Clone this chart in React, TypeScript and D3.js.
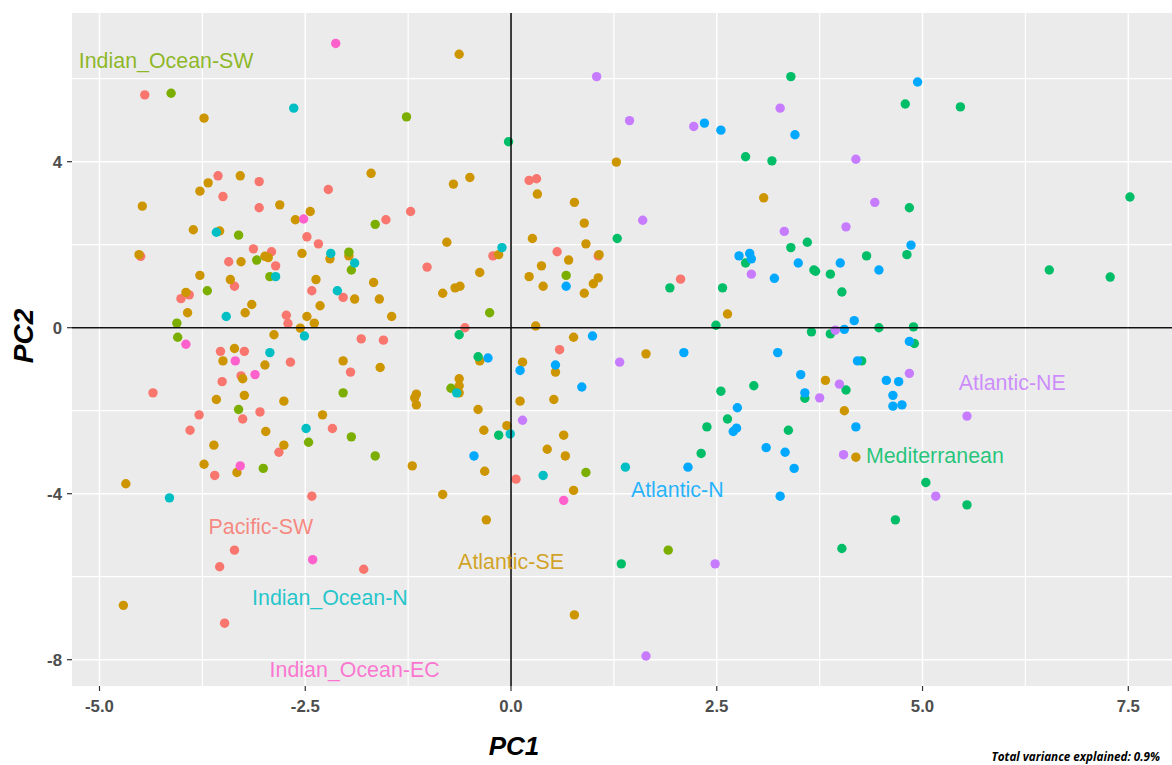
import React from "react";
import * as d3 from "d3";

type P = [number, number];

const pacificSW: P[] = [[-4.45,5.61],[-3.56,3.66],[-3.06,3.52],[-3.5,3.16],[-2.22,3.33],[-3.06,2.89],[-2.48,2.19],[-2.34,2.02],[-3.13,1.9],[-2.91,1.83],[-3.43,1.59],[-4.5,1.72],[-2.86,1.49],[-3.36,1],[-2.42,0.89],[-2.04,0.73],[-3.91,0.79],[-4.01,0.7],[-2.73,0.3],[-2.71,0.1],[-1.82,-0.27],[-3.53,-0.57],[-3.24,-0.57],[-2.68,-0.83],[-1.95,-1.07],[-3.28,-1.16],[-3.51,-1.3],[-4.35,-1.57],[-3.05,-2.03],[-3.79,-2.1],[-3.26,-2.2],[-3.9,-2.47],[-2.17,-2.43],[-2.82,-3],[-3.6,-3.56],[-2.42,-4.06],[-3.36,-5.36],[-3.54,-5.76],[-1.79,-5.82],[-3.48,-7.12],[0.22,3.55],[0.31,3.59],[-1.22,2.8],[-1.52,2.6],[-0.22,1.73],[0.56,1.83],[1.06,1.73],[-1.02,1.46],[-0.56,0],[-1.55,-0.3],[0.59,-0.53],[0.06,-3.65],[2.06,1.17]];

const atlanticSE: P[] = [[-3.73,5.05],[-3.29,3.66],[-3.68,3.49],[-3.78,3.29],[-4.48,2.93],[-2.81,2.96],[-2.44,2.8],[-2.62,2.6],[-3.86,2.36],[-3.54,2.33],[-2.99,1.72],[-2.95,1.69],[-3.28,1.59],[-2.54,1.79],[-2.2,1.66],[-1.97,1.73],[-4.52,1.76],[-3.78,1.26],[-3.41,1.16],[-2.37,1.16],[-1.9,0.69],[-3.95,0.85],[-3.15,0.56],[-2.32,0.53],[-3.93,0.36],[-3.23,0.36],[-2.48,0.27],[-2.39,0.11],[-2.56,-0.01],[-2.88,-0.17],[-3.36,-0.5],[-3.5,-0.8],[-2.99,-0.9],[-2.04,-0.8],[-3.26,-1.23],[-3.24,-1.63],[-3.58,-1.73],[-2.76,-1.77],[-2.29,-2.1],[-2.98,-2.5],[-3.61,-2.83],[-2.76,-2.83],[-3.73,-3.29],[-3.33,-3.49],[-4.68,-3.76],[-4.71,-6.69],[-0.63,6.59],[1.28,3.99],[-1.7,3.72],[-0.7,3.46],[-0.5,3.62],[0.32,3.22],[0.77,3.02],[0.89,2.52],[-0.78,2.06],[0.26,2.15],[0.91,2.02],[-0.15,1.76],[0.7,1.63],[1.07,1.76],[0.37,1.49],[-0.38,1.33],[0.22,1.23],[1.06,1.2],[1,1.06],[-1.67,1.09],[-1.6,0.69],[-0.83,0.83],[-0.68,0.96],[-0.62,1],[0.39,1],[0.89,0.83],[-1.45,0.27],[0.3,0.04],[0.76,-0.23],[-0.38,-0.8],[0.14,-0.83],[0.54,-1.07],[1.64,-0.63],[-1.59,-0.96],[-0.63,-1.23],[-0.63,-1.4],[-0.63,-1.57],[-1.15,-1.6],[-1.17,-1.69],[-1.15,-1.86],[0.11,-1.77],[0.52,-1.73],[-0.4,-1.97],[-0.05,-2.36],[-0.33,-2.47],[0.64,-2.59],[0.44,-2.93],[0.66,-3.09],[-1.2,-3.33],[-0.32,-3.46],[0.76,-3.92],[-0.83,-4.02],[-0.3,-4.63],[0.77,-6.92],[3.07,3.13],[2.63,0.33],[3.82,-1.27],[4.05,-2],[4.19,-3.12]];

const indianOceanSW: P[] = [[-4.13,5.65],[-3.31,2.23],[-3.09,1.63],[-1.97,1.82],[-1.94,1.39],[-2.93,1.23],[-3.69,0.89],[-4.06,0.11],[-4.05,-0.23],[-2.04,-1.57],[-3.31,-1.97],[-1.94,-2.63],[-2.46,-2.76],[-3.01,-3.39],[-1.27,5.08],[-1.65,2.49],[-0.26,0.36],[0.67,1.26],[-0.73,-1.46],[-1.65,-3.09],[0.91,-3.49],[1.91,-5.36]];

const mediterranean: P[] = [[-0.03,4.48],[1.29,2.15],[-0.63,-0.17],[-0.4,-0.7],[-0.15,-2.59],[1.34,-5.69],[3.4,6.05],[4.79,5.39],[5.46,5.32],[2.85,4.12],[3.17,4.02],[4.84,2.89],[3.6,2.06],[3.4,1.93],[2.85,1.56],[4.32,1.73],[4.81,1.76],[3.68,1.39],[3.7,1.36],[3.88,1.29],[1.93,0.96],[2.57,0.96],[4.02,0.86],[2.49,0.06],[3.65,-0.1],[3.88,-0.15],[4.47,0],[4.89,0.02],[4.9,-0.38],[4.26,-0.8],[2.95,-1.4],[4.07,-1.5],[2.55,-1.53],[3.57,-1.7],[2.63,-2.2],[2.38,-2.39],[3.37,-2.47],[2.31,-3.03],[5.04,-3.73],[5.54,-4.27],[4.67,-4.63],[4.02,-5.32],[7.52,3.15],[6.54,1.39],[7.28,1.22]];

const indianOceanN: P[] = [[-2.64,5.29],[-3.58,2.3],[-2.19,1.79],[-1.9,1.56],[-2.86,1.23],[-2.11,0.89],[-3.46,0.27],[-2.51,-0.2],[-2.93,-0.6],[-2.49,-2.43],[-4.15,-4.1],[-0.11,1.93],[-0.66,-1.57],[-0.01,-2.56],[0.39,-3.56],[1.39,-3.36]];

const atlanticN: P[] = [[0.67,1],[-0.28,-0.73],[0.11,-1.03],[0.54,-0.9],[0.99,-0.2],[0.86,-1.43],[-0.45,-3.09],[4.94,5.92],[2.35,4.93],[2.55,4.76],[3.45,4.65],[4.86,1.99],[2.77,1.73],[2.9,1.79],[2.92,1.66],[3.49,1.56],[4,1.56],[4.47,1.39],[3.2,1.19],[4.17,0.17],[4.05,-0.04],[4.84,-0.33],[2.1,-0.6],[3.24,-0.6],[4.21,-0.8],[3.52,-1.13],[4.56,-1.27],[4.71,-1.3],[3.57,-1.57],[4.64,-1.63],[4.75,-1.86],[4.64,-1.89],[2.75,-1.93],[2.74,-2.42],[2.7,-2.5],[4.19,-2.39],[3.1,-2.89],[3.33,-3],[2.15,-3.36],[3.44,-3.39],[3.27,-4.06]];

const atlanticNE: P[] = [[1.04,6.05],[1.44,4.99],[1.6,2.59],[1.32,-0.83],[0.14,-2.23],[1.64,-7.91],[3.27,5.29],[2.22,4.85],[4.19,4.06],[4.42,3.02],[4.07,2.43],[3.32,2.32],[2.92,1.29],[3.94,-0.06],[4.84,-1.1],[3.99,-1.36],[3.75,-1.69],[5.54,-2.13],[4.04,-3.06],[5.16,-4.06],[2.48,-5.69]];

const indianOceanEC: P[] = [[-2.13,6.85],[-2.52,2.62],[-3.95,-0.4],[-3.35,-0.8],[-3.11,-1.13],[-3.29,-3.33],[-2.41,-5.59],[0.64,-4.16]];

const seriesNames = ["Pacific-SW","Atlantic-SE","Indian_Ocean-SW","Mediterranean","Indian_Ocean-N","Atlantic-N","Atlantic-NE","Indian_Ocean-EC"];
const seriesValues = [pacificSW,atlanticSE,indianOceanSW,mediterranean,indianOceanN,atlanticN,atlanticNE,indianOceanEC];
const seriesColors = ["#F8766D","#CD9600","#7CAE00","#00BE67","#00BFC4","#00A9FF","#C77CFF","#FF61CC"];
const labelX = [-3.04,0,-4.19,5.15,-2.2,2.02,6.09,-1.9];
const labelY = [-4.78,-5.64,6.45,-3.07,-6.51,-3.91,-1.33,-8.24];

const xMajor = [-5,-2.5,0,2.5,5,7.5];
const xTickLabels = ["-5.0","-2.5","0.0","2.5","5.0","7.5"];
const xMinor = [-3.75,-1.25,1.25,3.75,6.25];
const yMajor = [-8,-4,0,4];
const yMinor = [-6,-2,2,6];

const W = 1172, H = 765;
const panel = { l: 72, r: 1172, t: 13, b: 686 };
const x = d3.scaleLinear().domain([-5,7.5]).range([99.5,1128.3]);
const y = d3.scaleLinear().domain([-8,6]).range([659.7,78.7]);
const sans = "'Liberation Sans', Arial, sans-serif";

export default function App() {
  return (
    <svg width={W} height={H} viewBox={`0 0 ${W} ${H}`} style={{position:"absolute",left:0,top:0,background:"#fff"}}>
      <rect x={panel.l} y={panel.t} width={panel.r-panel.l} height={panel.b-panel.t} fill="#EBEBEB"/>
      {xMinor.map(v=><line key={"xm"+v} x1={x(v)} x2={x(v)} y1={panel.t} y2={panel.b} stroke="#fff" strokeWidth={1.2}/>)}
      {yMinor.map(v=><line key={"ym"+v} y1={y(v)} y2={y(v)} x1={panel.l} x2={panel.r} stroke="#fff" strokeWidth={1.2}/>)}
      {xMajor.map(v=><line key={"xg"+v} x1={x(v)} x2={x(v)} y1={panel.t} y2={panel.b} stroke="#fff" strokeWidth={1.5}/>)}
      {yMajor.map(v=><line key={"yg"+v} y1={y(v)} y2={y(v)} x1={panel.l} x2={panel.r} stroke="#fff" strokeWidth={1.5}/>)}
      {seriesValues.map((s,i)=><g key={seriesNames[i]} fill={seriesColors[i]}>
        {s.map((p,j)=><circle key={j} cx={x(p[0])} cy={y(p[1])} r={4.7}/>)}
      </g>)}
      <line x1={x(0)} x2={x(0)} y1={panel.t} y2={panel.b} stroke="#000" strokeWidth={1.5}/>
      <line x1={panel.l} x2={panel.r} y1={y(0)} y2={y(0)} stroke="#111" strokeWidth={1.5}/>
      {seriesNames.map((n,i)=><text key={"lab"+n} x={x(labelX[i])} y={y(labelY[i])} dy="0.35em" textAnchor="middle" fontFamily={sans} fontSize={21.4} fill={seriesColors[i]} fillOpacity={0.85}>{n}</text>)}
      {xMajor.map((v,i)=><g key={"xt"+v}>
        <line x1={x(v)} x2={x(v)} y1={panel.b} y2={panel.b+5} stroke="#333" strokeWidth={1.2}/>
        <text x={x(v)} y={712} textAnchor="middle" fontFamily={sans} fontWeight="bold" fontSize={16.8} fill="#4D4D4D">{xTickLabels[i]}</text>
      </g>)}
      {yMajor.map(v=><g key={"yt"+v}>
        <line x1={panel.l-5} x2={panel.l} y1={y(v)} y2={y(v)} stroke="#333" strokeWidth={1.2}/>
        <text x={62} y={y(v)} dy="0.36em" textAnchor="end" fontFamily={sans} fontWeight="bold" fontSize={16.8} fill="#4D4D4D">{v}</text>
      </g>)}
      <text x={514} y={755} textAnchor="middle" fontFamily={sans} fontWeight="bold" fontStyle="italic" fontSize={26} fill="#000">PC1</text>
      <text transform="translate(33,336) rotate(-90)" textAnchor="middle" fontFamily={sans} fontWeight="bold" fontStyle="italic" fontSize={28} fill="#000">PC2</text>
      <text x={1160} y={761} textAnchor="end" fontFamily="'Open Sans', sans-serif" fontWeight="bold" fontStyle="italic" fontSize={11.7} fill="#000">Total variance explained: 0.9%</text>
    </svg>
  );
}
